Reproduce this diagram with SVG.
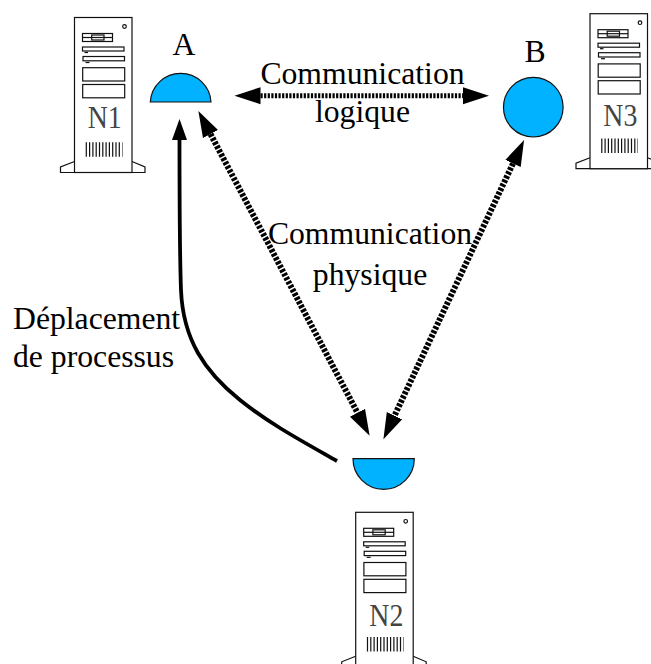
<svg xmlns="http://www.w3.org/2000/svg" width="651" height="664" viewBox="0 0 651 664">
<style>
.s{fill:#fff;stroke:#111;stroke-width:1.200}
.f{fill:none;stroke:#111;stroke-width:1.200}
.d{fill:#00b2ff;stroke:#111;stroke-width:1.200}
.t{font-family:"Liberation Serif","Times New Roman",serif;font-size:31.700px;fill:#000}
.n{font-family:"Liberation Serif","Times New Roman",serif;font-size:31px;fill:#444}
.h{fill:none;stroke:#000;stroke-width:6;stroke-dasharray:3 1.500}
.l{fill:none;stroke:#000;stroke-width:5;stroke-dasharray:2.200 1.400}
.m{text-anchor:middle}
</style>
<defs>
<marker id="ah" markerUnits="userSpaceOnUse" markerWidth="40" markerHeight="24" refX="0" refY="12" orient="auto-start-reverse" viewBox="0 0 40 24"><path d="M0,3.500L26,12L0,20.500z" fill="#000"/></marker>
<marker id="as" markerUnits="userSpaceOnUse" markerWidth="30" markerHeight="20" refX="0" refY="10" orient="auto" viewBox="0 0 30 20"><path d="M0,2.500L21,10L0,17.500z" fill="#000"/></marker>
<g id="srv">
<path class="s" d="M0,144L-14,149.500V155H70.500V149.500L57.500,144"/>
<rect class="s" x="0" y="0" width="57.500" height="155"/>
<circle class="f" cx="50" cy="9" r="1.800"/>
<rect class="f" x="8" y="16" width="30" height="8"/>
<path class="f" d="M8,20H38"/>
<rect class="f" x="17.200" y="17.500" width="12.300" height="5"/>
<rect class="f" x="8" y="29.500" width="41.500" height="4"/>
<path class="f" d="M10,35H13.500"/>
<rect class="f" x="8.500" y="39" width="41.500" height="4.300"/>
<path class="f" d="M11,45H15"/>
<rect class="f" x="8.200" y="50.200" width="42" height="13.300"/>
<rect class="f" x="8.200" y="67" width="42" height="13.300"/>
<path d="M11.200,132H48" fill="none" stroke="#111" stroke-width="14.500" stroke-dasharray="1.200 2.100"/>
</g>
</defs>
<g id="connectors">
<path class="l" d="M260.500,95.700H463" marker-start="url(#ah)" marker-end="url(#ah)"/>
<path class="h" d="M210.500,134L357.500,412.800" marker-start="url(#ah)" marker-end="url(#ah)"/>
<path class="h" d="M513,163.500L394.500,415.700" marker-start="url(#ah)" marker-end="url(#ah)"/>
<path d="M337,461C300,440 270,424 240,400C205,372 183,340 181,290C179.500,250 179.500,200 179.500,140" fill="none" stroke="#000" stroke-width="3.800" marker-end="url(#as)"/>
</g>
<g id="n1"><use href="#srv" x="74.500" y="17.500"/><text class="n" x="87.700" y="127.700" textLength="34" lengthAdjust="spacingAndGlyphs">N1</text></g>
<g id="n3"><use href="#srv" x="590" y="13.700"/><text class="n" x="603.300" y="126" textLength="34" lengthAdjust="spacingAndGlyphs">N3</text></g>
<g id="n2"><use href="#srv" x="355.700" y="512.300"/><text class="n" x="369.300" y="626" textLength="34" lengthAdjust="spacingAndGlyphs">N2</text></g>
<g id="process-a"><path class="d" d="M150.300,102A30.400,30.400 0 0 1 211,102Z"/><text class="t m" x="184" y="55">A</text></g>
<g id="process-b"><circle class="d" cx="533.300" cy="107.200" r="29.800"/><text class="t m" x="535" y="62">B</text></g>
<g id="process-n2"><path class="d" d="M353,458.700A30.600,30.600 0 0 0 414.300,458.700Z"/></g>
<g id="labels">
<text class="t m" x="362.500" y="84">Communication</text>
<text class="t m" x="362.500" y="122">logique</text>
<text class="t m" x="370" y="244">Communication</text>
<text class="t m" x="370" y="285">physique</text>
<text class="t" x="13" y="328.500">Déplacement</text>
<text class="t" x="13" y="366.500">de processus</text>
</g>
</svg>
